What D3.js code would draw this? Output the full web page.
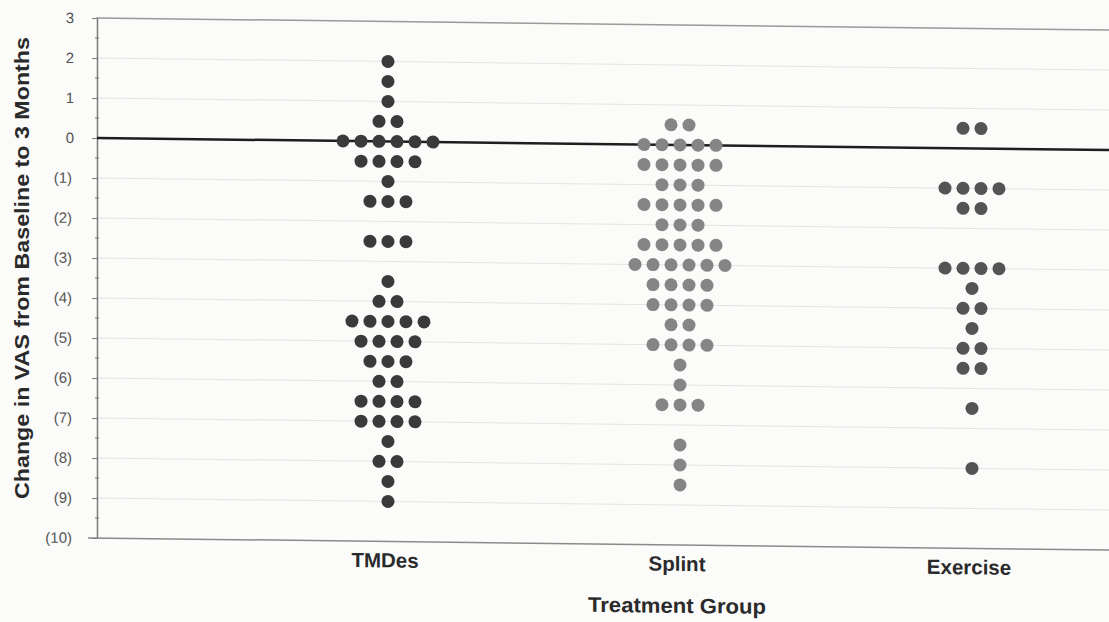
<!DOCTYPE html>
<html>
<head>
<meta charset="utf-8">
<script src="https://cdn.jsdelivr.net/npm/d3@7"></script>
<style>
  body { margin: 0; background: #fbfbfa; }
  svg { display: block; }
</style>
</head>
<body>
<script>
// one entry per subject, change in VAS
const groups = ['TMDes', 'Splint', 'Exercise'];
const tmdes = [2, 1.5, 1, 0.5, 0.5, 0, 0, 0, 0, 0, 0, -0.5, -0.5, -0.5, -0.5, -1,
  -1.5, -1.5, -1.5, -2.5, -2.5, -2.5, -3.5, -4, -4, -4.5, -4.5, -4.5, -4.5, -4.5,
  -5, -5, -5, -5, -5.5, -5.5, -5.5, -6, -6, -6.5, -6.5, -6.5, -6.5, -7, -7, -7, -7,
  -7.5, -8, -8, -8.5, -9];
const splint = [0.5, 0.5, 0, 0, 0, 0, 0, -0.5, -0.5, -0.5, -0.5, -0.5, -1, -1, -1,
  -1.5, -1.5, -1.5, -1.5, -1.5, -2, -2, -2, -2.5, -2.5, -2.5, -2.5, -2.5,
  -3, -3, -3, -3, -3, -3, -3.5, -3.5, -3.5, -3.5, -4, -4, -4, -4, -4.5, -4.5,
  -5, -5, -5, -5, -5.5, -6, -6.5, -6.5, -6.5, -7.5, -8, -8.5];
const exercise = [0.5, 0.5, -1, -1, -1, -1, -1.5, -1.5, -3, -3, -3, -3, -3.5, -4, -4,
  -4.5, -5, -5, -5.5, -5.5, -6.5, -8];
const yTicks = d3.range(3, -11, -1);
const dotColors = ['#3a3a3a', '#858585', '#545454'];

const width = 1109, height = 622;
const step = 18, r = 6.5;

const x = d3.scaleLinear().domain([0, 4]).range([96, 1264]);
const y = d3.scaleLinear().domain([-10, 3]).range([538, 18]);
const fmt = d => d < 0 ? `(${-d})` : `${d}`;

const svg = d3.select('body').append('svg')
  .attr('width', width)
  .attr('height', height)
  .style('font-family', 'Arial, "Liberation Sans", sans-serif');

// the scan is slightly tilted
const g = svg.append('g')
  .attr('transform', 'translate(97,0) skewY(0.68) translate(-97,0)');

// faint gridlines
g.append('g')
  .selectAll('line')
  .data(yTicks.filter(d => d !== 0 && d !== 3 && d !== -10))
  .join('line')
  .attr('x1', x(0) + 1).attr('x2', width)
  .attr('y1', d => y(d)).attr('y2', d => y(d))
  .attr('stroke', '#e4e4e4')
  .attr('stroke-width', 1);

// top border and bottom axis
g.append('line')
  .attr('x1', x(0)).attr('x2', width)
  .attr('y1', y(3)).attr('y2', y(3))
  .attr('stroke', '#9a9a9a').attr('stroke-width', 1.5);
g.append('line')
  .attr('x1', x(0) - 8).attr('x2', width)
  .attr('y1', y(-10)).attr('y2', y(-10))
  .attr('stroke', '#8a8a8a').attr('stroke-width', 1.5);

// y axis
const yAxis = g.append('g')
  .attr('transform', `translate(${x(0) + 1},0)`)
  .call(d3.axisLeft(y).tickValues(yTicks).tickFormat(fmt).tickSize(5).tickSizeOuter(0));
yAxis.select('.domain').attr('stroke', '#7a7a7a').attr('stroke-width', 1.5);
yAxis.selectAll('.tick line').attr('stroke', '#7a7a7a');
yAxis.selectAll('.tick text')
  .attr('x', d => d < 0 ? -25 : -23)
  .attr('fill', '#555')
  .style('font-size', '15px');

// half-step minor ticks
g.append('g')
  .selectAll('line')
  .data(d3.range(2.5, -10, -1))
  .join('line')
  .attr('x1', x(0) - 1).attr('x2', x(0) + 3)
  .attr('y1', d => y(d)).attr('y2', d => y(d))
  .attr('stroke', '#7a7a7a');

// zero line
g.append('line')
  .attr('x1', x(0) + 1).attr('x2', width)
  .attr('y1', y(0)).attr('y2', y(0))
  .attr('stroke', '#1e1e1e').attr('stroke-width', 2.5);

// dots, centred row by row
[tmdes, splint, exercise].forEach((vals, gi) => {
  const rows = d3.rollups(vals, v => v.length, d => d);
  const pts = rows.flatMap(([v, n]) => d3.range(n).map(j => ({
    cx: x(gi + 1) + (j - (n - 1) / 2) * step,
    cy: y(v)
  })));
  g.append('g')
    .selectAll('circle')
    .data(pts)
    .join('circle')
    .attr('cx', d => d.cx)
    .attr('cy', d => d.cy)
    .attr('r', r)
    .attr('fill', dotColors[gi]);
});

// category labels
g.append('g')
  .selectAll('text')
  .data(groups)
  .join('text')
  .attr('x', (d, i) => x(i + 1) - 3)
  .attr('y', 564)
  .attr('text-anchor', 'middle')
  .attr('fill', '#2a2a2a')
  .style('font-size', '20.5px')
  .style('font-weight', 'bold')
  .text(d => d);

g.append('text')
  .attr('x', x(2) - 3)
  .attr('y', 606)
  .attr('text-anchor', 'middle')
  .attr('fill', '#2a2a2a')
  .style('font-size', '21px')
  .style('font-weight', 'bold')
  .attr('textLength', 178)
  .attr('lengthAdjust', 'spacingAndGlyphs')
  .text('Treatment Group');

svg.append('text')
  .attr('transform', 'translate(29,268) rotate(-90)')
  .attr('text-anchor', 'middle')
  .attr('fill', '#2a2a2a')
  .style('font-size', '21px')
  .style('font-weight', 'bold')
  .attr('textLength', 462)
  .attr('lengthAdjust', 'spacingAndGlyphs')
  .text('Change in VAS from Baseline to 3 Months');
</script>
</body>
</html>
